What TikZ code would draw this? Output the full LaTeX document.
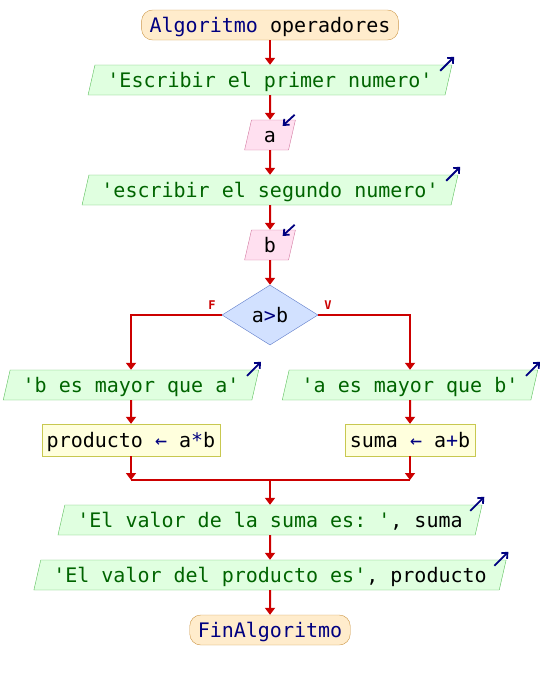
\documentclass[tikz,border=0pt]{standalone}
\usepackage{fontspec}
\setmonofont{DejaVu Sans Mono}
\usepackage{tikz}
\usetikzlibrary{shapes.geometric}
\usetikzlibrary{arrows.meta}
\usepackage{xcolor}
\definecolor{flowred}{RGB}{204,0,0}
\definecolor{kwnavy}{RGB}{0,0,128}
\definecolor{strgreen}{RGB}{0,100,0}
\definecolor{termfill}{RGB}{255,236,204}
\definecolor{termline}{RGB}{204,150,70}
\definecolor{outfill}{RGB}{224,255,224}
\definecolor{outline}{RGB}{90,190,90}
\definecolor{infill}{RGB}{255,224,240}
\definecolor{inline}{RGB}{210,120,160}
\definecolor{condfill}{RGB}{210,225,255}
\definecolor{condline}{RGB}{90,120,200}
\definecolor{asgfill}{RGB}{255,255,221}
\definecolor{asgline}{RGB}{200,200,80}

\begin{document}
\begin{tikzpicture}[x=1pt,y=-1pt,
  every node/.style={font=\ttfamily\fontsize{20}{24}\selectfont,text height=17pt,text depth=3pt},
  term/.style={draw=termline,fill=termfill,rounded corners=11pt,minimum height=30pt,inner xsep=8pt,inner ysep=0pt},
  outbox/.style={trapezium,trapezium left angle=71,trapezium right angle=109,trapezium stretches body,
    draw=outline,fill=outfill,minimum height=30pt,inner xsep=12.5pt,inner ysep=0pt},
  inbox/.style={outbox,draw=inline,fill=infill},
  condbox/.style={diamond,draw=condline,fill=condfill,minimum width=96pt,minimum height=60pt,inner sep=0pt,aspect=1.6},
  asgbox/.style={rectangle,draw=asgline,fill=asgfill,minimum height=32pt,inner xsep=5pt,inner ysep=0pt},
  flow/.style={draw=flowred,line width=2pt,-{Triangle[length=7pt,width=10pt]}},
  flowline/.style={draw=flowred,line width=2pt},
  ioicon/.style={draw=kwnavy,line width=1.8pt,-{Straight Barb[length=4.5pt,width=8pt]}},
  branchlbl/.style={font=\ttfamily\bfseries\fontsize{12}{14}\selectfont,text=flowred,text height=9pt,text depth=0pt,inner sep=0pt}]
  \useasboundingbox (0,0) rectangle (540,680);
  \pgfmathsetmacro{\cx}{270}
  \pgfmathsetmacro{\lx}{131}
  \pgfmathsetmacro{\rx}{410}

  % main column
  \node[term] (start) at (\cx,25) {\textcolor{kwnavy}{Algoritmo} operadores};
  \node[outbox] (out1) at (\cx,80) {\textcolor{strgreen}{'Escribir el primer numero'}};
  \node[inbox] (ina) at (\cx,135) {a};
  \node[outbox] (out2) at (\cx,190) {\textcolor{strgreen}{'escribir el segundo numero'}};
  \node[inbox] (inb) at (\cx,245) {b};
  \node[condbox] (cond) at (\cx,315) {a\textcolor{kwnavy}{>}b};
  \node[branchlbl] (lblF) at (212,305) {F};
  \node[branchlbl] (lblV) at (328,305) {V};

  % branches
  \node[outbox] (outF) at (\lx,385) {\textcolor{strgreen}{'b es mayor que a'}};
  \node[outbox] (outV) at (\rx,385) {\textcolor{strgreen}{'a es mayor que b'}};
  \node[asgbox] (asgF) at (\lx,440) {producto \textcolor{kwnavy}{←} a\textcolor{kwnavy}{*}b};
  \node[asgbox] (asgV) at (\rx,440) {suma \textcolor{kwnavy}{←} a\textcolor{kwnavy}{+}b};
  \coordinate (join) at (\cx,480);

  \node[outbox] (out3) at (\cx,520) {\textcolor{strgreen}{'El valor de la suma es: '}, suma};
  \node[outbox] (out4) at (\cx,575) {\textcolor{strgreen}{'El valor del producto es'}, producto};
  \node[term] (fin) at (\cx,630) {\textcolor{kwnavy}{FinAlgoritmo}};

  % connectors
  \draw[flow] (start) -- (out1);
  \draw[flow] (out1) -- (ina);
  \draw[flow] (ina) -- (out2);
  \draw[flow] (out2) -- (inb);
  \draw[flow] (inb) -- (cond);
  \draw[flow] (cond.west) -| (outF.north);
  \draw[flow] (cond.east) -| (outV.north);
  \draw[flow] (outF) -- (asgF);
  \draw[flow] (outV) -- (asgV);
  \draw[flow] (asgF) -- (asgF |- join);
  \draw[flow] (asgV) -- (asgV |- join);
  \draw[flowline] (asgF |- join) -- (asgV |- join);
  \draw[flow] (join) -- (out3);
  \draw[flow] (out3) -- (out4);
  \draw[flow] (out4) -- (fin);

  % io icons
  \foreach \n in {out1,out2,outF,outV,out3,out4}{
    \draw[ioicon] ([shift={(-12,6)}]\n.top right corner) -- ++(14,-14);
  }
  \foreach \n in {ina,inb}{
    \draw[ioicon] ([shift={(-1,-5)}]\n.top right corner) -- ++(-12,11);
  }
\end{tikzpicture}
\end{document}
